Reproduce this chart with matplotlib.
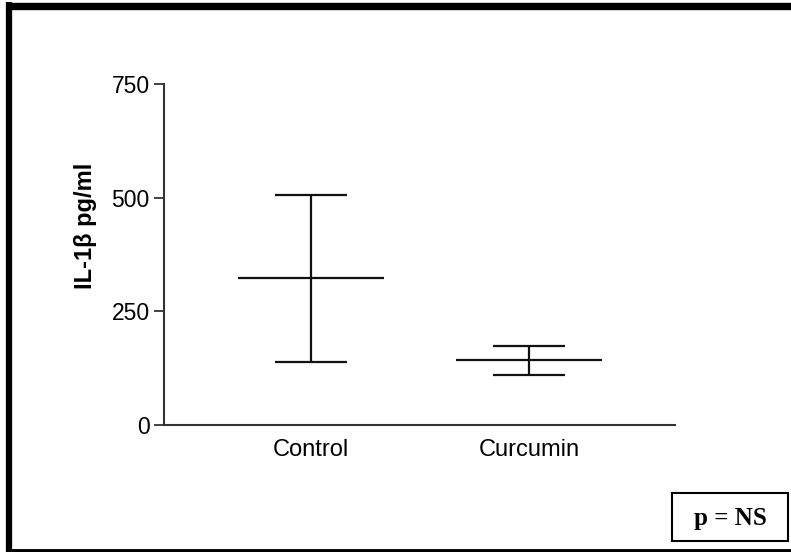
import numpy as np
import matplotlib.pyplot as plt
from matplotlib.lines import Line2D
from matplotlib.patches import Rectangle

# Werte
groups = ['Control', 'Curcumin']
mean = [322, 141]
upper = [505, 173]
lower = [138, 108]
yticks = [0, 250, 500, 750]

plt.rcParams['font.family'] = ['Liberation Sans', 'DejaVu Sans']

W, H = 791, 552
fig = plt.figure(figsize=(W / 100, H / 100), dpi=100)

# Achse in Pixelkoordinaten
ax = fig.add_axes([164.3 / W, 1 - 424.5 / H, (675 - 164.3) / W, (424.5 - 84) / H])

x = np.arange(len(groups))
ax.hlines(mean, x - 0.333, x + 0.333, color='#111111', lw=1.6)
ax.hlines(upper, x - 0.167, x + 0.167, color='#111111', lw=1.6)
ax.hlines(lower, x - 0.167, x + 0.167, color='#111111', lw=1.6)
ax.vlines(x, lower, upper, color='#111111', lw=1.6)

ax.set_xlim(-0.673, 1.67)
ax.set_ylim(0, 750)
ax.set_yticks(yticks)
ax.set_xticks(x)
ax.set_xticklabels(groups, fontsize=17)
ax.tick_params(axis='x', length=0, pad=10.5)
ax.tick_params(axis='y', length=7.5, width=1.3, labelsize=16.5, pad=3, color='#333333')
ax.set_ylabel('IL-1β pg/ml', fontsize=17, fontweight='bold')
ax.yaxis.set_label_coords(-0.132, 0.583)

for s in ['top', 'right']:
    ax.spines[s].set_visible(False)
for s in ['left', 'bottom']:
    ax.spines[s].set_linewidth(1.5)
    ax.spines[s].set_color('#333333')

# Rahmen um die ganze Grafik
def px_line(x0, y0, x1, y1, lw):
    fig.add_artist(Line2D([x0 / W, x1 / W], [1 - y0 / H, 1 - y1 / H],
                          color='black', lw=lw, solid_capstyle='butt'))

px_line(6, 5.5, W, 5.5, 5.3)
px_line(9, 2, 9, H, 4.5)
px_line(6, 550.5, W, 550.5, 3.5)

# Kasten mit p-Wert
fig.add_artist(Rectangle((672 / W, 1 - 541 / H), (788 - 672) / W, (541 - 493) / H,
                         transform=fig.transFigure, fill=False, ec='black', lw=1.5))
fig.text(730 / W, 1 - 518 / H, 'p = NS', ha='center', va='center', fontsize=18,
         fontweight='bold', family=['Liberation Serif', 'DejaVu Serif'])

fig.savefig('out.png', dpi=100)
